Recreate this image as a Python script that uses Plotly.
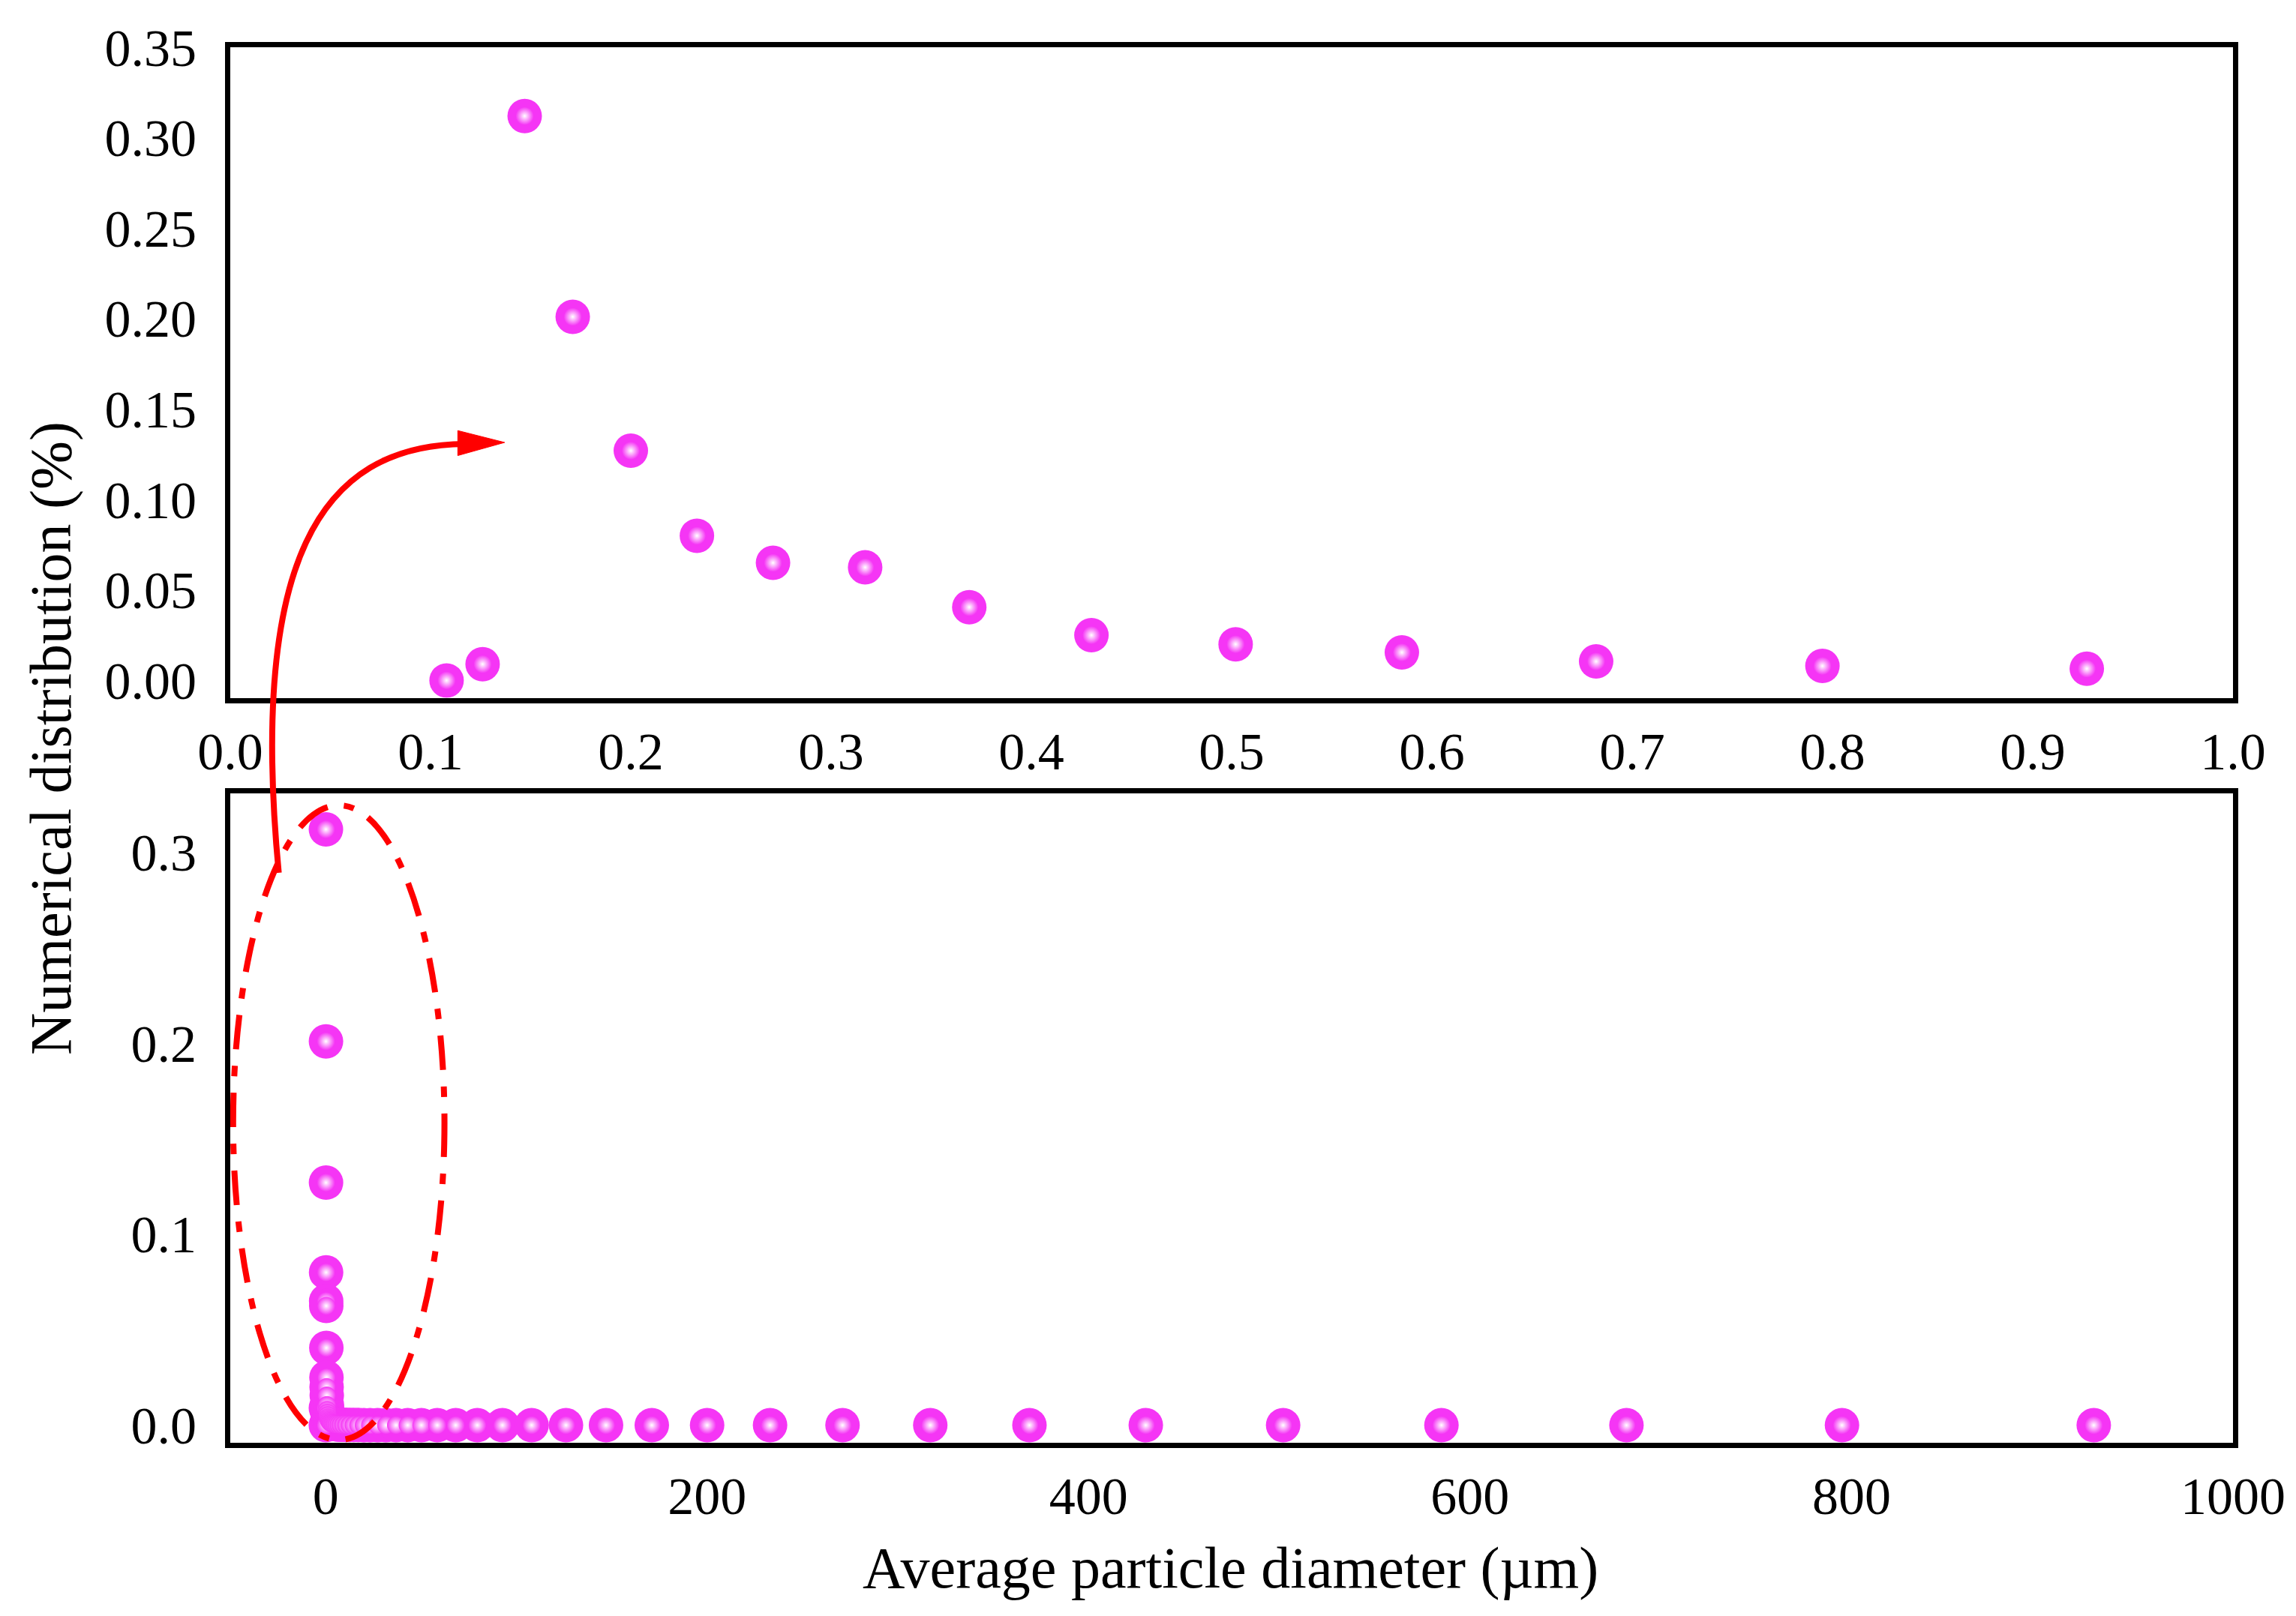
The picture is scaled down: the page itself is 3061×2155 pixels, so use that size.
import plotly.graph_objects as go
from plotly.subplots import make_subplots

# Diâmetros médios das classes (µm) e distribuição numérica (%)
diameter_um = [0.108, 0.126, 0.147, 0.171, 0.200, 0.233, 0.271, 0.317, 0.369, 0.430,
               0.502, 0.585, 0.682, 0.795, 0.927,
               1.08, 1.26, 1.47, 1.71, 2.00, 2.33, 2.71, 3.17, 3.69, 4.30,
               5.02, 5.85, 6.82, 7.95, 9.27,
               10.8, 12.6, 14.7, 17.1, 20.0, 23.3, 27.1, 31.7, 36.9, 43.0,
               50.2, 58.5, 68.2, 79.5, 92.7,
               108, 126, 147, 171, 200, 233, 271, 317, 369, 430,
               502, 585, 682, 795, 927]
number_pct = [0.000, 0.009, 0.312, 0.201, 0.127, 0.080, 0.065, 0.0625, 0.0405, 0.025,
              0.020, 0.0155, 0.0105, 0.008, 0.0065,
              0.0052, 0.0041, 0.0033, 0.0026, 0.0021, 0.0016, 0.0013, 0.0010, 0.0008, 0.0006,
              0.0005, 0.0004, 0.0003, 0.00025, 0.0002,
              0.00015, 0.00012, 0.0001, 0.00008, 0.00006, 0.00005, 0.00004, 0.00003, 0.00003, 0.00002,
              0.00002, 0.00001, 0.00001, 0.00001, 0.00001,
              0.00001, 0.00001, 0.0, 0.0, 0.0, 0.0, 0.0, 0.0, 0.0, 0.0,
              0.0, 0.0, 0.0, 0.0, 0.0]

# Só as classes submicrométricas no gráfico de cima
small_d = [d for d in diameter_um if d <= 1.0]
small_n = number_pct[:len(small_d)]

FONT = "Liberation Serif"
MAGENTA = "#f535f5"

# bolinha magenta + brilho suave no centro
ball = dict(size=46, color=MAGENTA, line=dict(width=0))
shine = dict(size=24, color=MAGENTA, line=dict(width=0),
             gradient=dict(type="radial", color="#ffffff"))

fig = make_subplots(rows=2, cols=1, vertical_spacing=0.0684)

for xs, ys, r in [(small_d, small_n, 1), (diameter_um, number_pct, 2)]:
    for m in (ball, shine):
        fig.add_trace(go.Scatter(x=xs, y=ys, mode="markers", marker=m, hoverinfo="skip",
                                 showlegend=False, cliponaxis=(r == 1)), row=r, col=1)

axis_style = dict(showline=True, linecolor="black", linewidth=7, mirror=True,
                  showgrid=False, zeroline=False, ticks="",
                  tickfont=dict(family=FONT, size=70, color="black"))

fig.update_xaxes(axis_style)
fig.update_yaxes(axis_style)

fig.update_layout(
    xaxis=dict(range=[0, 1.0], dtick=0.1, tickformat=".1f", ticklabelstandoff=4),
    yaxis=dict(range=[-0.0097, 0.35], dtick=0.05, tickformat=".2f",
               domain=[0.5337, 1.0], ticklabelstandoff=24),
    xaxis2=dict(range=[-50, 1000], dtick=200, tickformat="d", ticklabelstandoff=4),
    yaxis2=dict(range=[-0.0092, 0.3308], dtick=0.1, tickformat=".1f",
                domain=[0.0, 0.4653], ticklabelstandoff=24),
    width=3061, height=2155,
    margin=dict(l=299, r=92, t=55, b=239),
    plot_bgcolor="white", paper_bgcolor="white",
    font=dict(family=FONT, color="black"),
)

# Títulos dos eixos
fig.add_annotation(text="Average particle diameter (µm)", xref="paper", yref="paper",
                   x=0.4996, y=-0.0895, showarrow=False, yanchor="middle",
                   font=dict(family=FONT, size=78, color="black"))
fig.add_annotation(text="Numerical distribution (%)", xref="paper", yref="paper",
                   x=-0.09, y=0.505, textangle=-90, showarrow=False,
                   xanchor="center", yanchor="middle",
                   font=dict(family=FONT, size=78, color="black"))

# Elipse tracejada em volta das partículas finas
fig.add_shape(type="circle", xref="x2", yref="y2", x0=-48.5, x1=62.3, y0=-0.0077, y1=0.3246,
              line=dict(color="red", width=8, dash="46px,22px,14px,22px"))

# Seta curva ligando a elipse ao gráfico de cima
fig.add_shape(type="path", xref="paper", yref="paper",
              path="M 0.0242,0.4084 C 0.0095,0.6300 0.0440,0.7150 0.1172,0.7158",
              line=dict(color="red", width=8))
fig.add_shape(type="path", xref="paper", yref="paper",
              path="M 0.1370,0.7168 L 0.1136,0.7253 L 0.1136,0.7074 Z",
              line=dict(color="red", width=1), fillcolor="red")

fig.write_html("out.html")
